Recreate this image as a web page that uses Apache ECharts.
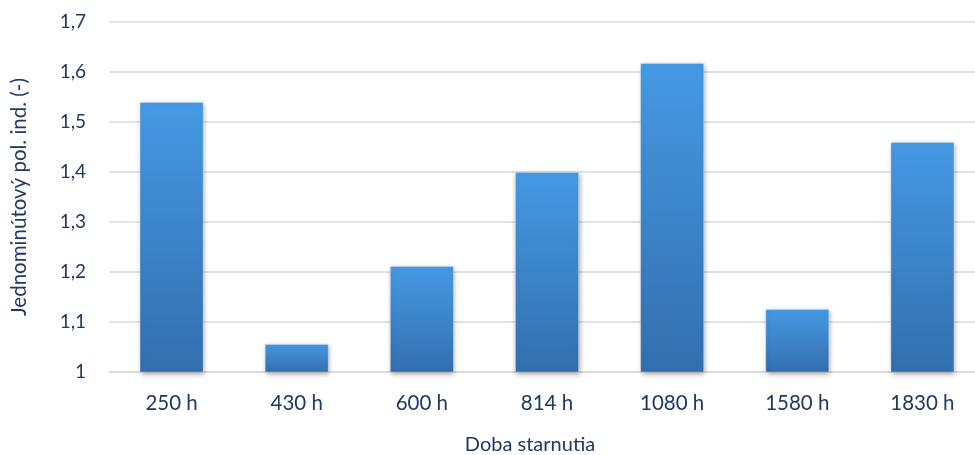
<!DOCTYPE html>
<html>
<head>
<meta charset="utf-8">
<script src="https://cdn.jsdelivr.net/npm/echarts@6/dist/echarts.min.js"></script>
<style>
  html, body { margin: 0; padding: 0; background: #ffffff; }
  #chart { width: 975px; height: 455px; }
</style>
</head>
<body>
<div id="chart"></div>
<script>
// Aging time categories and one-minute index values
const categories = ['250 h', '430 h', '600 h', '814 h', '1080 h', '1580 h', '1830 h'];
const values = [1.54, 1.056, 1.212, 1.40, 1.618, 1.126, 1.46];
const yTicks = [1, 1.1, 1.2, 1.3, 1.4, 1.5, 1.6, 1.7];

const textColor = '#1f3864';
const fontFamily = 'Lato, "Open Sans", sans-serif';

const chart = echarts.init(document.getElementById('chart'));
chart.setOption({
  animation: false,
  grid: { left: 109, right: -10, top: 22, bottom: 83, containLabel: false, outerBoundsMode: 'none' },
  xAxis: {
    type: 'category',
    data: categories,
    name: 'Doba starnutia',
    nameLocation: 'middle',
    nameGap: 63,
    nameTextStyle: { color: textColor, fontSize: 20, fontFamily: fontFamily, padding: [0, 0, 0, -34] },
    axisLine: { lineStyle: { color: '#d9d9d9', width: 1.5 } },
    axisTick: { show: false },
    axisLabel: { color: textColor, fontSize: 20.5, fontFamily: fontFamily, margin: 21 }
  },
  yAxis: {
    type: 'value',
    min: yTicks[0],
    max: yTicks[yTicks.length - 1],
    interval: 0.1,
    name: 'Jednominútový pol. ind. (-)',
    nameLocation: 'middle',
    nameGap: 79,
    nameTextStyle: { color: textColor, fontSize: 20.5, fontFamily: fontFamily },
    axisLine: { show: false },
    axisTick: { show: false },
    splitLine: { lineStyle: { color: '#d9d9d9', width: 1.5 } },
    axisLabel: {
      color: textColor, fontSize: 19, fontFamily: fontFamily, margin: 23,
      formatter: v => (Math.round(v * 10) / 10).toString().replace('.', ',')
    }
  },
  series: [{
    type: 'bar',
    data: values,
    barWidth: '51%',
    itemStyle: {
      color: new echarts.graphic.LinearGradient(0, 0, 0, 1, [
        { offset: 0, color: '#4599e4' },
        { offset: 1, color: '#336fae' }
      ]),
      borderColor: 'rgba(255,255,255,0.35)',
      borderWidth: 0.8,
      shadowColor: 'rgba(0,0,0,0.35)',
      shadowBlur: 5,
      shadowOffsetX: 1,
      shadowOffsetY: 2
    }
  }]
});
</script>
</body>
</html>
